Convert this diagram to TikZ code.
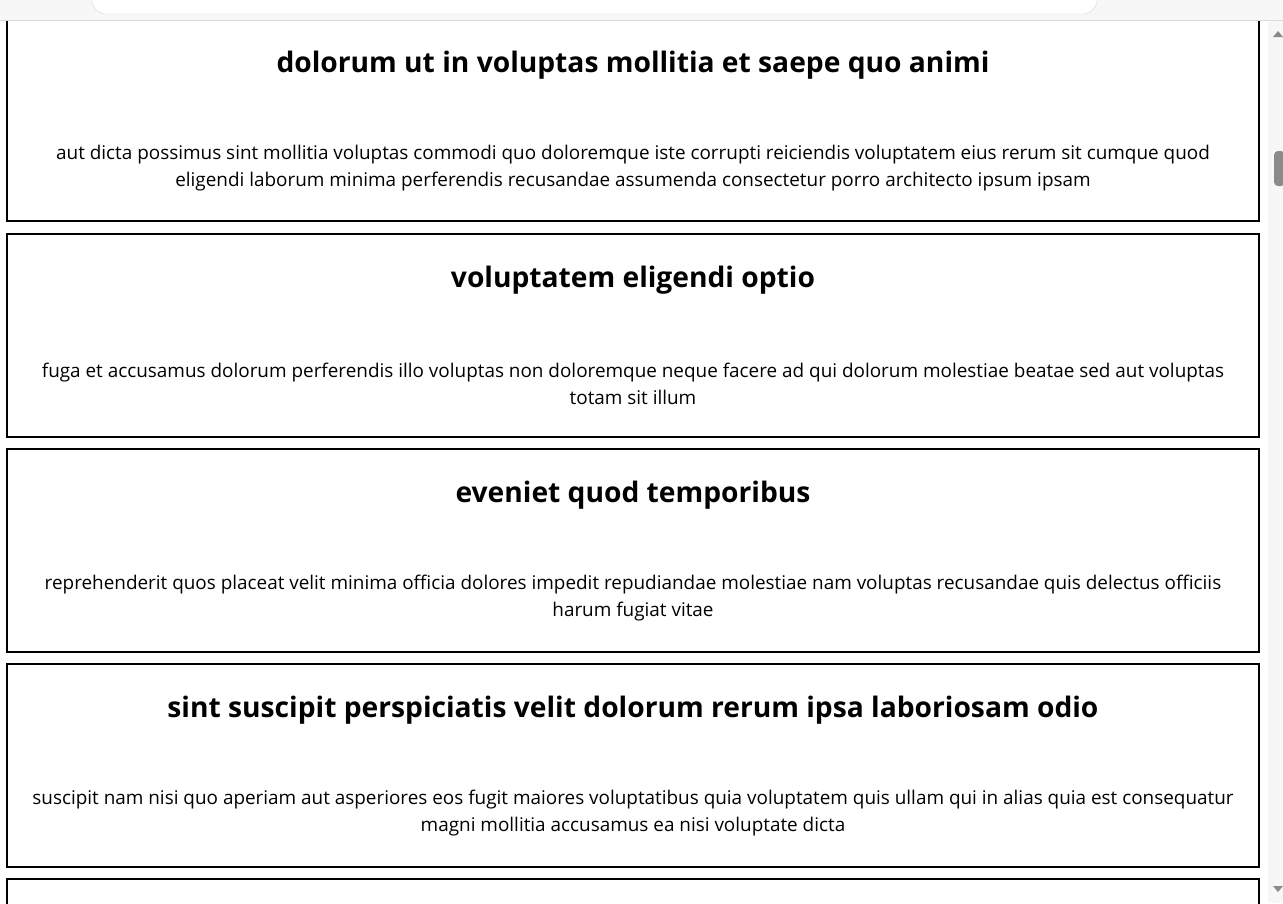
\documentclass[tikz,border=0pt]{standalone}
\usepackage{fontspec}
\setmainfont{Open Sans}
\usetikzlibrary{positioning}
\definecolor{chrome}{HTML}{F7F7F7}
\definecolor{thumb}{HTML}{8B8B8B}
\tikzset{node distance=103.5pt, auto,
  card/.style={draw, line width=2pt, minimum width=1252pt, minimum height=203pt, inner sep=0pt},
  headline/.style={font=\fontsize{28.2}{32}\selectfont\bfseries},
  bodytext/.style={font=\fontsize{18.9}{27}\selectfont, align=center}}

\begin{document}
\begin{tikzpicture}[x=1pt, y=-1pt]
      \useasboundingbox (0,0) rectangle (1283,903);
      \clip (0,0) rectangle (1283,903);

      \node[card] (c1) at (633,119.5) {};
      \node[card] (c2) at (633,335.5) {};
      \node[card] (c3) at (633,550.5) {};
      \node[card] (c4) at (633,765.5) {};
      \node[card] (c5) at (633,980.5) {};

      \node[headline] (t1) at (633,65) {dolorum ut in voluptas mollitia et saepe quo animi};
      \node[bodytext] (b1) [below of=t1] {aut dicta possimus sint mollitia voluptas commodi quo doloremque iste corrupti reiciendis voluptatem eius rerum sit cumque quod\\ eligendi laborum minima perferendis recusandae assumenda consectetur porro architecto ipsum ipsam};

      \node[headline] (t2) at (633,280) {voluptatem eligendi optio};
      \node[bodytext] (b2) [below of=t2] {fuga et accusamus dolorum perferendis illo voluptas non doloremque neque facere ad qui dolorum molestiae beatae sed aut voluptas\\ totam sit illum};

      \node[headline] (t3) at (633,495) {eveniet quod temporibus};
      \node[bodytext] (b3) [below of=t3] {reprehenderit quos placeat velit minima officia dolores impedit repudiandae molestiae nam voluptas recusandae quis delectus officiis\\ harum fugiat vitae};

      \node[headline] (t4) at (633,710) {sint suscipit perspiciatis velit dolorum rerum ipsa laboriosam odio};
      \node[bodytext] (b4) [below of=t4] {suscipit nam nisi quo aperiam aut asperiores eos fugit maiores voluptatibus quia voluptatem quis ullam qui in alias quia est consequatur\\ magni mollitia accusamus ea nisi voluptate dicta};

      % browser bar
      \fill[chrome] (0,0) rectangle (1283,20);
      \draw[black!15] (0,20) -- (1283,20);
      \draw[black!15, fill=white, rounded corners=14pt] (92,-30) rectangle (1097,14);
      % scrollbar
      \fill[chrome] (1268,21) rectangle (1283,903);
      \fill[thumb, rounded corners=4pt] (1274,151) rectangle (1285,186);
      \fill[thumb] (1273,37) -- (1283,37) -- (1278,31) -- cycle;
      \fill[thumb] (1273,886) -- (1283,886) -- (1278,892) -- cycle;
    \end{tikzpicture}
\end{document}
